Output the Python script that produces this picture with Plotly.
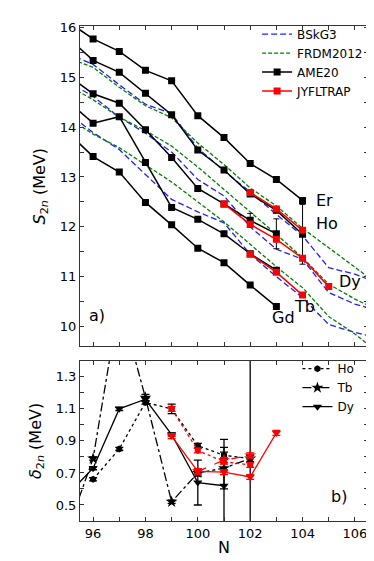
import plotly.graph_objects as go

# ---- S2n, AME20 (black) ----
er_n = [95, 96, 97, 98, 99, 100, 101, 102, 103, 104]
er_s2n = [16.13, 15.77, 15.52, 15.14, 14.93, 14.23, 13.79, 13.27, 12.95, 12.53]
er_err = [0.02, 0.02, 0.02, 0.02, 0.02, 0.02, 0.02, 0.02, 0.02, 0.02]

ho_n = [95, 96, 97, 98, 99, 100, 101, 102, 103, 104]
ho_s2n = [15.82, 15.34, 15.10, 14.68, 14.25, 13.54, 13.14, 12.66, 12.33, 11.85]
ho_err = [0.02, 0.02, 0.02, 0.02, 0.02, 0.02, 0.02, 0.02, 0.03, 0.60]

dy_n = [95, 96, 97, 98, 99, 100, 101, 102, 103]
dy_s2n = [15.05, 14.67, 14.48, 13.95, 13.39, 12.77, 12.46, 12.13, 11.86]
dy_err = [0.02, 0.02, 0.02, 0.02, 0.02, 0.02, 0.02, 0.14, 0.30]

tb_n = [95, 96, 97, 98, 99, 100, 101, 102, 103]
tb_s2n = [14.54, 14.08, 14.21, 13.29, 12.39, 12.15, 11.86, 11.46, 11.13]
tb_err = [0.02, 0.02, 0.02, 0.02, 0.02, 0.02, 0.02, 0.02, 0.02]

gd_n = [95, 96, 97, 98, 99, 100, 101, 102, 103]
gd_s2n = [13.91, 13.41, 13.10, 12.49, 12.04, 11.57, 11.28, 10.83, 10.40]
gd_err = [0.02, 0.02, 0.02, 0.02, 0.02, 0.02, 0.02, 0.02, 0.02]

# ---- S2n, JYFLTRAP (red) ----
ho_j_n = [102, 103, 104]
ho_j_s2n = [12.69, 12.36, 11.93]
dy_j_n = [101, 102, 103, 104, 105]
dy_j_s2n = [12.46, 12.05, 11.75, 11.37, 10.80]
tb_j_n = [102, 103, 104]
tb_j_s2n = [11.45, 11.09, 10.63]
j_err = 0.02

# ---- theory ----
th_n = [95, 96, 97, 98, 99, 100, 101, 102, 103, 104, 105, 106, 107]
ho_bskg3 = [15.48, 15.26, 14.85, 14.46, 14.27, 13.58, 13.12, 12.70, 12.25, 11.82, 11.18, 11.05, 10.85]
ho_frdm = [15.40, 15.20, 14.80, 14.43, 14.19, 13.68, 13.25, 12.78, 12.42, 11.97, 11.58, 11.20, 10.80]
dy_bskg3 = [14.92, 14.62, 14.20, 13.88, 13.50, 12.95, 12.62, 12.00, 11.55, 11.35, 10.68, 10.45, 10.30]
dy_frdm = [14.85, 14.55, 14.20, 13.93, 13.62, 13.20, 12.75, 12.30, 11.85, 11.38, 10.85, 10.55, 10.30]
tb_bskg3 = [14.30, 13.89, 13.55, 13.05, 12.55, 12.30, 12.08, 11.45, 11.00, 10.58, 10.04, 9.88, 9.75]
tb_frdm = [14.20, 13.86, 13.59, 13.25, 12.90, 12.50, 12.10, 11.65, 11.20, 10.78, 10.20, 9.85, 9.43]

# ---- delta2n ----
d_ho_n = [96, 97, 98, 99, 100, 101, 102]
d_ho = [0.66, 0.85, 1.14, 1.10, 0.87, 0.81, 0.79]
d_ho_err = [0.01, 0.01, 0.01, 0.03, 0.015, 0.02, 0.65]
d_tb_n = [95, 96, 97, 98, 99, 100, 101, 102]
d_tb = [0.33, 0.79, 1.77, 1.17, 0.52, 0.70, 0.73, 0.79]
d_tb_err = [0.01, 0.01, 0.02, 0.02, 0.01, 0.02, 0.13, 0.02]
d_dy_n = [95, 96, 97, 98, 99, 100, 101]
d_dy = [0.56, 0.73, 1.10, 1.16, 0.94, 0.64, 0.62]
d_dy_err = [0.01, 0.01, 0.01, 0.01, 0.01, 0.14, 0.29]

d_ho_j_n = [99, 100, 101, 102]
d_ho_j = [1.10, 0.84, 0.77, 0.75]
d_tb_j_n = [100, 101, 102]
d_tb_j = [0.71, 0.78, 0.81]
d_dy_j_n = [99, 100, 101, 102, 103]
d_dy_j = [0.93, 0.71, 0.705, 0.675, 0.95]
d_j_err = 0.015

FONT = "DejaVu Sans"
fig = go.Figure()

# theory lines
for i, (b, f) in enumerate([(ho_bskg3, ho_frdm), (dy_bskg3, dy_frdm), (tb_bskg3, tb_frdm)]):
    fig.add_trace(go.Scatter(x=th_n, y=b, mode="lines", name="BSkG3", showlegend=(i == 0),
                             legendrank=1, line=dict(color="#2020ff", dash="6px,3px", width=1.3)))
    fig.add_trace(go.Scatter(x=th_n, y=f, mode="lines", name="FRDM2012", showlegend=(i == 0),
                             legendrank=2, line=dict(color="green", dash="4px,2px", width=1.3)))

# AME20
ame = [(er_n, er_s2n, er_err), (ho_n, ho_s2n, ho_err), (dy_n, dy_s2n, dy_err),
       (tb_n, tb_s2n, tb_err), (gd_n, gd_s2n, gd_err)]
for i, (n, s, e) in enumerate(ame):
    fig.add_trace(go.Scatter(x=n, y=s, mode="lines+markers", name="AME20", showlegend=(i == 0),
                             legendrank=3,
                             error_y=dict(type="data", array=e, color="black", thickness=1, width=3),
                             line=dict(color="black", width=1.5),
                             marker=dict(symbol="square", size=7, color="black")))

# JYFLTRAP
for i, (n, s) in enumerate([(ho_j_n, ho_j_s2n), (dy_j_n, dy_j_s2n), (tb_j_n, tb_j_s2n)]):
    fig.add_trace(go.Scatter(x=n, y=s, mode="lines+markers", name="JYFLTRAP", showlegend=(i == 0),
                             legendrank=4,
                             error_y=dict(type="constant", value=j_err, color="red", thickness=1, width=3),
                             line=dict(color="red", width=1.5),
                             marker=dict(symbol="square", size=7, color="red")))

# delta2n, black
blk = [("Ho", d_ho_n, d_ho, d_ho_err, "dot", "hexagon", 7),
       ("Tb", d_tb_n, d_tb, d_tb_err, "dashdot", "star", 9),
       ("Dy", d_dy_n, d_dy, d_dy_err, "solid", "triangle-down", 8)]
for name, n, d, e, dash, sym, sz in blk:
    fig.add_trace(go.Scatter(x=n, y=d, xaxis="x2", yaxis="y2", mode="lines+markers", name=name,
                             legend="legend2",
                             error_y=dict(type="data", array=e, color="black", thickness=1.3, width=4),
                             line=dict(color="black", width=1.3, dash=dash),
                             marker=dict(symbol=sym, size=sz, color="black")))

red = [(d_ho_j_n, d_ho_j, "dot", "hexagon", 7),
       (d_tb_j_n, d_tb_j, "dash", "star", 9),
       (d_dy_j_n, d_dy_j, "solid", "triangle-down", 8)]
for n, d, dash, sym, sz in red:
    fig.add_trace(go.Scatter(x=n, y=d, xaxis="x2", yaxis="y2", mode="lines+markers", showlegend=False,
                             error_y=dict(type="constant", value=d_j_err, color="red", thickness=1.3, width=4),
                             line=dict(color="red", width=1.3, dash=dash),
                             marker=dict(symbol=sym, size=sz, color="red")))

axis_common = dict(showline=True, linecolor="#333", linewidth=1, mirror="ticks", ticks="inside",
                   ticklen=4, tickcolor="#333", showgrid=False, zeroline=False,
                   tickfont=dict(family=FONT, size=13, color="black"))
minor = dict(ticks="inside", ticklen=4, tickcolor="#333", showgrid=False)

labels = [("Er", 104.45, 12.52), ("Ho", 104.45, 12.07), ("Dy", 105.3, 10.9),
          ("Tb", 103.6, 10.4), ("Gd", 102.75, 10.18), ("a)", 95.75, 10.22)]
annotations = [dict(text=t, x=x, y=y, xref="x", yref="y", xanchor="left", yanchor="middle",
                    showarrow=False, font=dict(family=FONT, size=16, color="black"))
               for t, x, y in labels]
annotations.append(dict(text="b)", x=105.0, y=0.55, xref="x2", yref="y2", xanchor="left",
                        yanchor="middle", showarrow=False, font=dict(family=FONT, size=16, color="black")))

fig.update_layout(
    width=374, height=561,
    margin=dict(l=72, r=14, t=18, b=48),
    plot_bgcolor="white", paper_bgcolor="white",
    font=dict(family=FONT, color="black"),
    xaxis=dict(axis_common, range=[95.5, 106.5], dtick=2, tick0=96, showticklabels=False,
               minor=dict(minor, dtick=1), anchor="y", domain=[0, 1]),
    yaxis=dict(axis_common, range=[9.6, 16.03], dtick=1, domain=[0.3527, 1],
               minor=dict(minor, dtick=0.5), anchor="x",
               title=dict(text="<i>S</i><sub>2<i>n</i></sub> (MeV)", standoff=10,
                          font=dict(family=FONT, size=16))),
    xaxis2=dict(axis_common, range=[95.5, 106.5], dtick=2, tick0=96, anchor="y2", domain=[0, 1],
                minor=dict(minor, dtick=1),
                title=dict(text="N", standoff=2, font=dict(family=FONT, size=16))),
    yaxis2=dict(axis_common, range=[0.4, 1.4], dtick=0.2, tick0=0.5, domain=[0, 0.3236],
                minor=dict(minor, dtick=0.1), anchor="x2", tickformat=".1f",
                title=dict(text="<i>δ</i><sub>2<i>n</i></sub> (MeV)", standoff=10,
                           font=dict(family=FONT, size=16))),
    legend=dict(x=0.615, y=1.013, xanchor="left", yanchor="top", bgcolor="rgba(0,0,0,0)",
                font=dict(family=FONT, size=12), tracegroupgap=0, itemwidth=30),
    legend2=dict(x=0.755, y=0.337, xanchor="left", yanchor="top", bgcolor="rgba(0,0,0,0)",
                 font=dict(family=FONT, size=12), tracegroupgap=0, itemwidth=30),
    annotations=annotations,
)

fig.write_html("out.html")
